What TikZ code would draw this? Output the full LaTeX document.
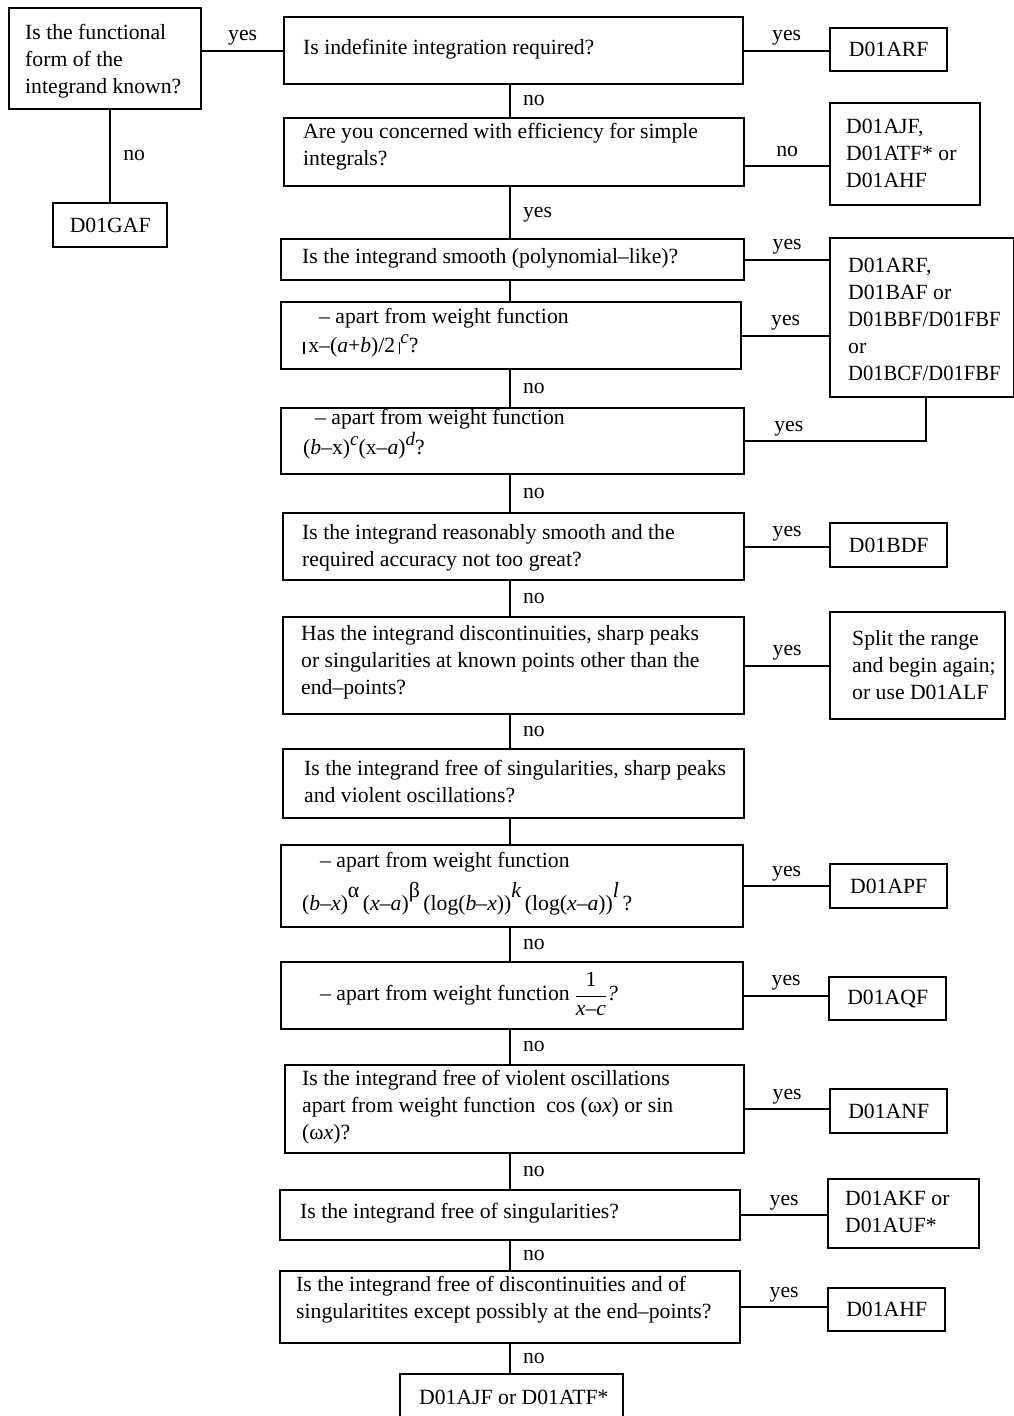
\documentclass[tikz,border=0pt]{standalone}
\usepackage{fontspec}
\setmainfont{Liberation Serif}
\newcommand{\fsz}{\fontsize{21.7}{27}\selectfont}
\newcommand{\sups}[1]{\raisebox{0.42em}[0pt][0pt]{\fontsize{19}{19}\selectfont #1}}
\newcommand{\supb}[1]{\raisebox{0.6em}[0pt][0pt]{\fontsize{21.7}{22}\selectfont #1}}
\newcommand{\vbar}{\rule[-0.05em]{0.07em}{0.55em}}
\begin{document}
\begin{tikzpicture}[x=1pt, y=-1pt,
  box/.style={draw, line width=2.4pt, inner sep=0pt, anchor=north west, font=\fsz},
  conn/.style={line width=2.1pt},
  txt/.style={font=\fsz, align=left, inner sep=0pt, anchor=west},
  hl/.style={font=\fsz, anchor=base, yshift=10pt, inner sep=0pt},
  vl/.style={font=\fsz, anchor=west, inner sep=0pt, xshift=12pt, yshift=-3pt, text height=0.5em, text depth=0.2em}]
\useasboundingbox (0,0) rectangle (1014,1416);
\clip (0,0) rectangle (1014,1416);
% boxes
\node[box, minimum width=192, minimum height=101] (A) at (8,7) {};
\node[box, minimum width=114, minimum height=44] (GAF) at (52,202) {D01GAF};
\node[box, minimum width=459, minimum height=67] (B) at (283,16) {};
\node[box, minimum width=117, minimum height=43] (ARF) at (829,27) {D01ARF};
\node[box, minimum width=460, minimum height=68] (C) at (283,117) {};
\node[box, minimum width=150, minimum height=102] (AJF) at (829,102) {};
\node[box, minimum width=463, minimum height=41] (D) at (280,238) {};
\node[box, minimum width=184, minimum height=159] (G) at (829,237) {};
\node[box, minimum width=460, minimum height=67] (E) at (280,301) {};
\node[box, minimum width=463, minimum height=66] (F) at (280,407) {};
\node[box, minimum width=461, minimum height=67] (H) at (282,512) {};
\node[box, minimum width=117, minimum height=44] (BDF) at (829,522) {D01BDF};
\node[box, minimum width=461, minimum height=97] (I) at (282,616) {};
\node[box, minimum width=175, minimum height=107] (SPL) at (829,611) {};
\node[box, minimum width=461, minimum height=69] (J) at (282,748) {};
\node[box, minimum width=462, minimum height=82] (K) at (280,844) {};
\node[box, minimum width=117, minimum height=44] (APF) at (829,863) {D01APF};
\node[box, minimum width=462, minimum height=67] (L) at (280,961) {};
\node[box, minimum width=117, minimum height=43] (AQF) at (828,976) {D01AQF};
\node[box, minimum width=459, minimum height=88] (M) at (284,1064) {};
\node[box, minimum width=117, minimum height=44] (ANF) at (829,1088) {D01ANF};
\node[box, minimum width=460, minimum height=50] (N) at (279,1189) {};
\node[box, minimum width=151, minimum height=69] (AKF) at (827,1178) {};
\node[box, minimum width=460, minimum height=72] (O) at (279,1270) {};
\node[box, minimum width=117, minimum height=43] (AHF) at (827,1287) {D01AHF};
\node[box, minimum width=223, minimum height=70] (P) at (399,1373) {};
% texts
\node[txt] (At) at (25,61) {Is the functional\\form of the\\integrand known?};
\node[txt] (Bt) at (303,49) {Is indefinite integration required?};
\node[txt] (Ct) at (303,147) {Are you concerned with efficiency for simple\\integrals?};
\node[txt] (Dt) at (302,258) {Is the integrand smooth (polynomial–like)?};
\node[txt] (Et) at (303,333) {\hspace*{16pt}– apart from weight function\\[2pt]\vbar\,x–(\textit{a}+\textit{b})/2\,\vbar\sups{\textit{c}}?};
\node[txt] (Ft) at (303,434) {\hspace*{12pt}– apart from weight function\\[3pt](\textit{b}–x)\sups{\textit{c}}(x–\textit{a})\sups{\textit{d}}?};
\node[txt] (Ht) at (302,548) {Is the integrand reasonably smooth and the\\required accuracy not too great?};
\node[txt] (It) at (301,662) {Has the integrand discontinuities, sharp peaks\\or singularities at known points other than the\\end–points?};
\node[txt] (Jt) at (304,782) {Is the integrand free of singularities, sharp peaks\\and violent oscillations?};
\node[txt] (Kt) at (302,884) {\hspace*{18pt}– apart from weight function\\[16pt](\textit{b}–\textit{x})\supb{α}\,(\textit{x}–\textit{a})\supb{β}\,(log(\textit{b}–\textit{x}))\supb{\textit{k}}\,(log(\textit{x}–\textit{a}))\supb{\textit{l}}\,?};
\node[txt] (Lt) at (320,994) {– apart from weight function\hspace{5pt}$\displaystyle\frac{\mbox{1}}{\mbox{\textit{x}–\textit{c}}}$\textit{?}};
\node[txt] (Mt) at (302,1107) {Is the integrand free of violent oscillations\\apart from weight function \ cos (ω\textit{x}) or sin\\(ω\textit{x})?};
\node[txt] (Nt) at (300,1213) {Is the integrand free of singularities?};
\node[txt] (Ot) at (296,1300) {Is the integrand free of discontinuities and of\\singularitites except possibly at the end–points?};
\node[txt] (AJFt) at (846,153) {D01AJF,\\D01ATF* or\\D01AHF};
\node[txt] (Gt) at (848,319) {D01ARF,\\D01BAF or\\\scalebox{0.95}[1]{D01BBF/D01FBF}\\or\\\scalebox{0.95}[1]{D01BCF/D01FBF}};
\node[txt] (SPLt) at (852,665) {Split the range\\and begin again;\\or use D01ALF};
\node[txt] (AKFt) at (845,1212) {D01AKF or\\D01AUF*};
\node[txt] (Pt) at (419,1397) {D01AJF or D01ATF*};
% connectors
\coordinate (sp) at (510,0);
\coordinate (y166) at (0,166);
\draw[conn] (A.east |- B.west) -- (B.west) node[midway,hl]{yes};
\draw[conn] (GAF.north) -- (GAF.north |- A.south) node[midway,vl]{no};
\draw[conn] (B.east) -- (B.east -| ARF.west) node[midway,hl]{yes};
\draw[conn] (C.east |- y166) -- (AJF.west |- y166) node[midway,hl]{no};
\draw[conn] (D.east) -- (D.east -| G.west) node[midway,hl]{yes};
\draw[conn] (E.east) -- (E.east -| G.west) node[midway,hl]{yes};
\draw[conn] (F.east) -| ([xshift=4pt]G.south) node[pos=0.12,hl]{yes};
\draw[conn] (H.east) -- (H.east -| BDF.west) node[midway,hl]{yes};
\draw[conn] (I.east) -- (I.east -| SPL.west) node[midway,hl]{yes};
\draw[conn] (K.east) -- (K.east -| APF.west) node[midway,hl]{yes};
\draw[conn] (L.east) -- (L.east -| AQF.west) node[midway,hl]{yes};
\draw[conn] (M.east) -- (M.east -| ANF.west) node[midway,hl]{yes};
\draw[conn] (N.east) -- (N.east -| AKF.west) node[midway,hl]{yes};
\draw[conn] (O.east) -- (O.east -| AHF.west) node[midway,hl]{yes};
\draw[conn] (B.south -| sp) -- (C.north -| sp) node[midway,vl]{no};
\draw[conn] (C.south -| sp) -- (D.north -| sp) node[midway,vl]{yes};
\draw[conn] (D.south -| sp) -- (E.north -| sp);
\draw[conn] (E.south -| sp) -- (F.north -| sp) node[midway,vl]{no};
\draw[conn] (F.south -| sp) -- (H.north -| sp) node[midway,vl]{no};
\draw[conn] (H.south -| sp) -- (I.north -| sp) node[midway,vl]{no};
\draw[conn] (I.south -| sp) -- (J.north -| sp) node[midway,vl]{no};
\draw[conn] (J.south -| sp) -- (K.north -| sp);
\draw[conn] (K.south -| sp) -- (L.north -| sp) node[midway,vl]{no};
\draw[conn] (L.south -| sp) -- (M.north -| sp) node[midway,vl]{no};
\draw[conn] (M.south -| sp) -- (N.north -| sp) node[midway,vl]{no};
\draw[conn] (N.south -| sp) -- (O.north -| sp) node[midway,vl]{no};
\draw[conn] (O.south -| sp) -- (P.north -| sp) node[midway,vl]{no};
\end{tikzpicture}
\end{document}
